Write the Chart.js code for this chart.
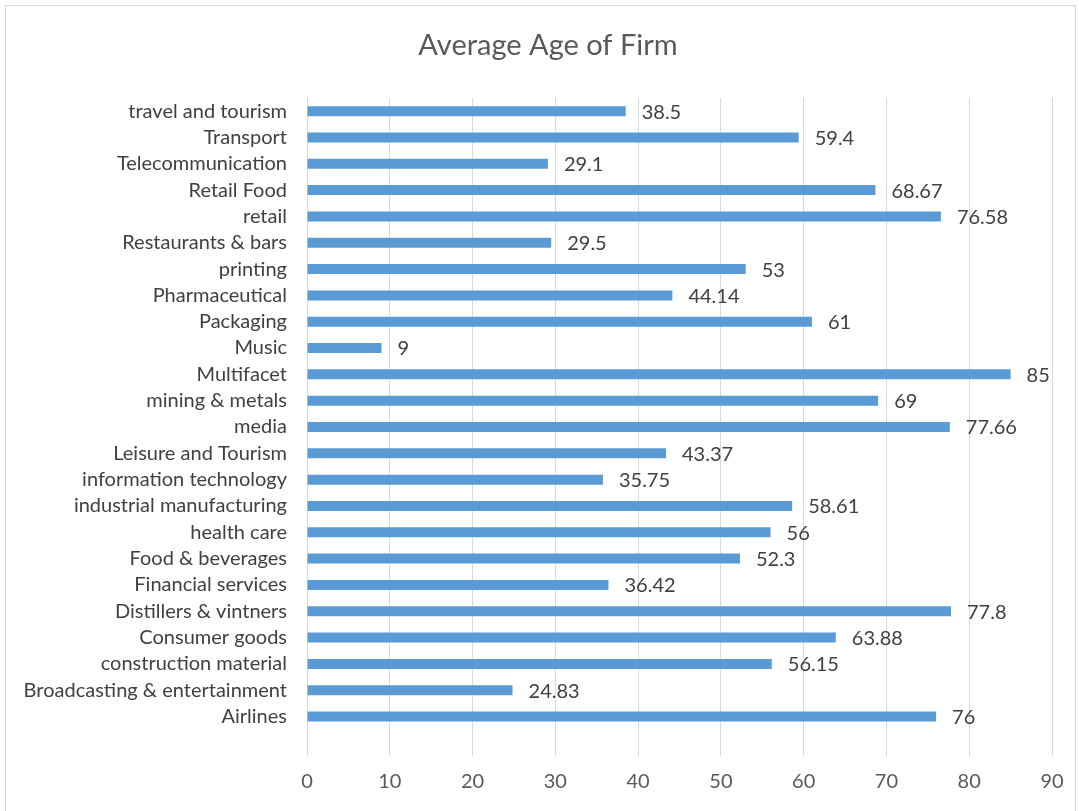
<!DOCTYPE html>
<html>
<head>
<meta charset="utf-8">
<script src="https://cdn.jsdelivr.net/npm/chart.js@4.4.1/dist/chart.umd.min.js"></script>
<style>
  html, body { margin: 0; padding: 0; background: #fff; }
  #wrap { position: relative; width: 1079px; height: 811px; }
</style>
</head>
<body>
<div id="wrap"><canvas id="ageChart" width="1079" height="811"></canvas></div>
<script>
// categories in sheet order (Airlines near the bottom, blank row below it)
const categories = [
    '', 'Airlines', 'Broadcasting & entertainment', 'construction material', 'Consumer goods',
    'Distillers & vintners', 'Financial services', 'Food & beverages', 'health care',
    'industrial manufacturing', 'information technology', 'Leisure and Tourism', 'media',
    'mining & metals', 'Multifacet', 'Music', 'Packaging', 'Pharmaceutical', 'printing',
    'Restaurants & bars', 'retail', 'Retail Food', 'Telecommunication', 'Transport',
    'travel and tourism'
];
const avgAge = [
    null, 76, 24.83, 56.15, 63.88, 77.8, 36.42, 52.3, 56, 58.61, 35.75, 43.37, 77.66,
    69, 85, 9, 61, 44.14, 53, 29.5, 76.58, 68.67, 29.1, 59.4, 38.5
];
const xTicks = [0, 10, 20, 30, 40, 50, 60, 70, 80, 90];
const chartTitle = 'Average Age of Firm';

const FONT = 'Lato, "Liberation Sans", sans-serif';

// chart frame and title, placed like the office export
const framePlugin = {
    id: 'frame',
    beforeDraw(chart) {
        const c = chart.ctx;
        c.save();
        c.fillStyle = '#fff';
        c.fillRect(0, 0, chart.width, chart.height);
        c.strokeStyle = '#d9d9d9';
        c.lineWidth = 1;
        c.strokeRect(5.5, 5.5, 1070, 830);
        c.font = '29px ' + FONT;
        c.fillStyle = '#595959';
        c.textAlign = 'center';
        c.textBaseline = 'middle';
        c.fillText(chartTitle, 548, 46);
        c.restore();
    }
};

// value labels at the end of each bar
const valueLabels = {
    id: 'valueLabels',
    afterDatasetsDraw(chart) {
        const c = chart.ctx;
        const meta = chart.getDatasetMeta(0);
        c.save();
        c.font = '20px ' + FONT;
        c.fillStyle = '#404040';
        c.textBaseline = 'middle';
        c.textAlign = 'left';
        meta.data.forEach((bar, i) => {
            if (avgAge[i] == null) return;
            c.fillText(String(avgAge[i]), bar.x + 16, bar.y + 1);
        });
        c.restore();
    }
};

new Chart(document.getElementById('ageChart'), {
    type: 'bar',
    data: {
        labels: categories,
        datasets: [{
            label: chartTitle,
            data: avgAge,
            backgroundColor: '#5b9bd5',
            borderWidth: 0,
            barPercentage: 0.38,
            categoryPercentage: 1
        }]
    },
    options: {
        indexAxis: 'y',
        responsive: false,
        animation: false,
        layout: { padding: { left: 0, right: 27, top: 98, bottom: 0 } },
        plugins: {
            legend: { display: false },
            tooltip: { enabled: false },
            title: { display: false }
        },
        scales: {
            x: {
                min: 0,
                max: 90,
                afterBuildTicks(scale) {
                    scale.ticks = xTicks.map(v => ({ value: v }));
                },
                afterFit(scale) { scale.height = 55; },
                grid: { color: '#d9d9d9', lineWidth: 1, drawTicks: false },
                border: { display: false },
                ticks: {
                    color: '#595959',
                    font: { family: FONT, size: 20 },
                    padding: 14
                }
            },
            y: {
                reverse: true,
                afterFit(scale) { scale.width = 307; },
                grid: { display: false, drawTicks: false },
                border: { display: false },
                ticks: {
                    color: '#404040',
                    font: { family: FONT, size: 20 },
                    padding: 20,
                    autoSkip: false
                }
            }
        }
    },
    plugins: [framePlugin, valueLabels]
});
</script>
</body>
</html>
